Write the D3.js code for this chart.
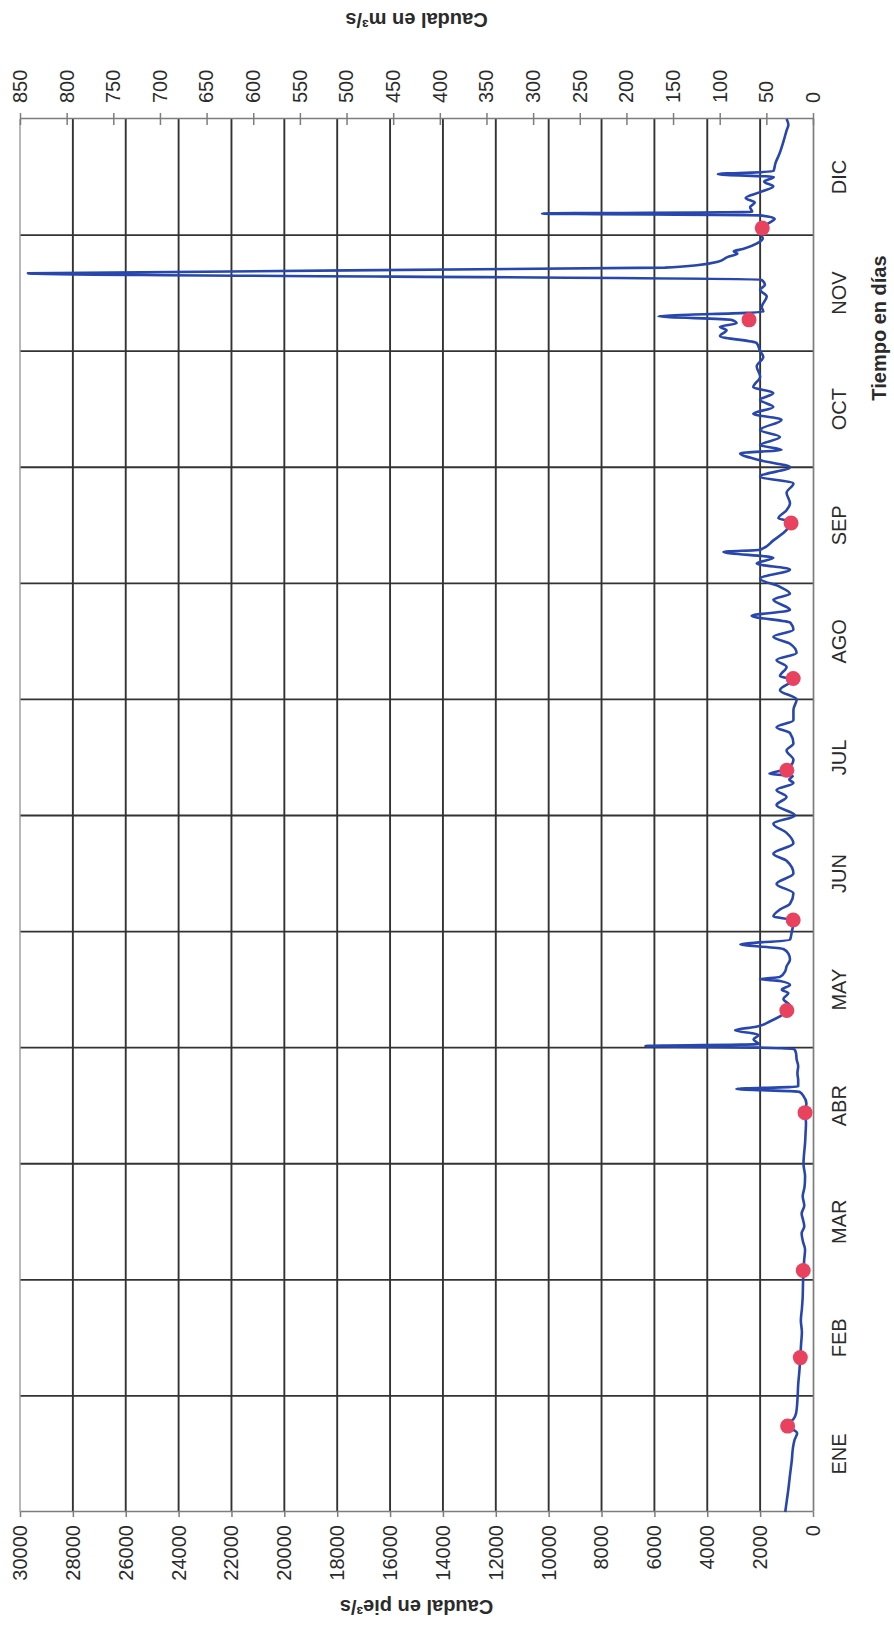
<!DOCTYPE html>
<html>
<head>
<meta charset="utf-8">
<script src="https://cdn.jsdelivr.net/npm/d3@7"></script>
<style>
  body { margin: 0; background: #ffffff; }
  svg text { font-family: "Liberation Sans", Arial, sans-serif; fill: #2b2b2b; }
</style>
</head>
<body>
<svg id="chart" width="894" height="1625"></svg>
<script>
// Months of the year (category labels of the time axis)
const months = ["ENE", "FEB", "MAR", "ABR", "MAY", "JUN", "JUL", "AGO", "SEP", "OCT", "NOV", "DIC"];

// Tick values of the two flow axes
const pieTicks = [0, 2000, 4000, 6000, 8000, 10000, 12000, 14000, 16000, 18000, 20000, 22000, 24000, 26000, 28000, 30000];
const m3Ticks = [0, 50, 100, 150, 200, 250, 300, 350, 400, 450, 500, 550, 600, 650, 700, 750, 800, 850];

// Daily flow hydrograph: time in months since 1 January, flow in ft³/s
const flowT = [
  0.00, 0.10, 0.20, 0.32, 0.45, 0.55, 0.62, 0.68, 0.71, 0.74, 0.77, 0.80, 0.85, 0.93,
  1.00, 1.10, 1.20, 1.33, 1.45, 1.55, 1.65, 1.75, 1.85, 1.95,
  2.08, 2.18, 2.26, 2.33, 2.40, 2.46, 2.52, 2.57, 2.64, 2.72, 2.80, 2.89,
  3.00, 3.08, 3.18, 3.27, 3.35, 3.44, 3.52, 3.58, 3.62, 3.645, 3.665, 3.72, 3.78, 3.84, 3.90, 3.95, 3.985,
  4.00, 4.015, 4.03, 4.07, 4.11, 4.15, 4.18, 4.23, 4.27, 4.32, 4.36, 4.42, 4.47, 4.50, 4.54, 4.575, 4.59, 4.61, 4.66, 4.70, 4.76, 4.81, 4.85, 4.89, 4.93,
  5.00, 5.05, 5.10, 5.13, 5.19, 5.24, 5.33, 5.41, 5.50, 5.61, 5.67, 5.76, 5.85, 5.93,
  6.00, 6.09, 6.16, 6.22, 6.28, 6.31, 6.34, 6.36, 6.40, 6.48, 6.56, 6.62, 6.71, 6.76, 6.82, 6.91,
  7.00, 7.08, 7.17, 7.20, 7.28, 7.34, 7.40, 7.48, 7.54, 7.60, 7.66, 7.72, 7.77, 7.86, 7.91, 7.97,
  8.04, 8.12, 8.17, 8.22, 8.27, 8.29, 8.37, 8.46, 8.53, 8.56, 8.63, 8.69, 8.78, 8.86, 8.92,
  9.00, 9.06, 9.12, 9.15, 9.19, 9.26, 9.32, 9.41, 9.46, 9.52, 9.58, 9.64, 9.69, 9.78, 9.87, 9.95,
  10.00, 10.07, 10.13, 10.18, 10.21, 10.24, 10.27, 10.30, 10.34, 10.38, 10.47, 10.53, 10.57, 10.615, 10.67, 10.72, 10.74, 10.77, 10.81, 10.84, 10.86, 10.88, 10.93, 10.97,
  11.00, 11.06, 11.10, 11.14, 11.17, 11.185, 11.20, 11.24, 11.28, 11.32, 11.37, 11.42, 11.46, 11.50, 11.525, 11.55, 11.62, 11.70, 11.82, 11.90, 11.95, 12.00
];
const flowQ = [
  1050, 990, 930, 870, 800, 760, 700, 600, 760, 980, 900, 740, 640, 600,
  580, 560, 520, 480, 450, 420, 460, 420, 390, 380,
  360, 330, 300, 380, 430, 330, 380, 430, 330, 390, 320, 300,
  360, 340, 300, 280, 265, 300, 250, 350, 520, 2900, 560, 560, 590, 560, 620, 640, 700,
  2100, 6350, 2050, 2250, 2050, 2950, 2150, 1600, 1250, 950, 870, 1120, 930, 1180, 870, 1250, 2000, 1250, 1050, 1000, 870, 930, 1120, 2750, 870,
  800, 760, 800, 1500, 1250, 870, 740, 1380, 740, 1000, 1500, 740, 1000, 1500,
  680, 1380, 1000, 1380, 740, 900, 760, 1650, 1000, 740, 1000, 740, 870, 1380, 740, 740,
  620, 1250, 760, 1250, 1000, 1380, 620, 870, 1500, 740, 850, 2320, 870, 1500, 870, 1250,
  2000, 870, 2130, 1500, 3390, 2000, 1500, 1000, 830, 1310, 1000, 870, 1000, 740, 2000,
  870, 2000, 2760, 1190, 2000, 1250, 2000, 1190, 2260, 1500, 2000, 1500, 2260, 2000, 2130, 1880,
  2000, 2130, 3520, 3270, 3520, 2890, 3100, 5850, 1880, 1940, 1750, 2000, 1820, 1950, 29700, 5600, 4400, 3600, 3240, 2860, 3000, 2650, 2100, 1900,
  1950, 1900, 1700, 1450, 2000, 10250, 2300, 2380, 2200, 2550, 2000, 1500, 1850, 1480, 3600, 1500, 1420, 1270, 1100, 1000, 930, 1000
];

// Spot flow measurements (ft³/s)
const obsT = [0.74, 1.33, 2.08, 3.44, 4.32, 5.10, 6.39, 7.18, 8.52, 10.27, 11.06];
const obsQ = [960, 480, 370, 300, 990, 750, 990, 750, 830, 2420, 1920];

// The chart is laid out in landscape (1625 x 894) and turned a quarter turn
// anticlockwise onto the portrait page.
const W = 1625, H = 894;
const margin = { left: 113, right: 119, top: 20, bottom: 81 };

const svg = d3.select("#chart");
const g = svg.append("g").attr("transform", `translate(0,${W}) rotate(-90)`);

const x = d3.scaleLinear().domain([0, 12]).range([margin.left, W - margin.right]);
const xBand = d3.scaleBand().domain(months).range([margin.left, W - margin.right]);
const y = d3.scaleLinear().domain([0, 30000]).range([H - margin.bottom, margin.top]);
const y2 = d3.scaleLinear().domain([0, 850]).range([H - margin.bottom, margin.top]);

const gridColor = "#333333";
const axisColor = "#7d7d7d";

// Horizontal gridlines (flow)
g.append("g").selectAll("line")
  .data(pieTicks.filter(d => d > 0 && d < 30000))
  .join("line")
  .attr("x1", margin.left).attr("x2", W - margin.right)
  .attr("y1", d => y(d)).attr("y2", d => y(d))
  .attr("stroke", gridColor).attr("stroke-width", 1.9);

// Vertical gridlines at month boundaries
g.append("g").selectAll("line")
  .data(months.slice(1))
  .join("line")
  .attr("x1", d => xBand(d)).attr("x2", d => xBand(d))
  .attr("y1", margin.top).attr("y2", H - margin.bottom)
  .attr("stroke", gridColor).attr("stroke-width", 1.9);

// Top border of the plot area
g.append("line")
  .attr("x1", margin.left).attr("x2", W - margin.right)
  .attr("y1", margin.top).attr("y2", margin.top)
  .attr("stroke", "#9a9a9a").attr("stroke-width", 1.4);

// Left axis: ft³/s
const axL = g.append("g")
  .attr("transform", `translate(${margin.left},0)`)
  .call(d3.axisLeft(y).tickValues(pieTicks).tickFormat(d3.format("d"))
    .tickSizeInner(5).tickSizeOuter(0).tickPadding(8));

// Right axis: m³/s with crossing tick marks
const axR = g.append("g")
  .attr("transform", `translate(${W - margin.right},0)`)
  .call(d3.axisRight(y2).tickValues(m3Ticks).tickFormat(d3.format("d"))
    .tickSizeInner(6).tickSizeOuter(0).tickPadding(10));
axR.selectAll(".tick line").attr("x1", -6);

// Bottom axis: months
const axB = g.append("g")
  .attr("transform", `translate(0,${H - margin.bottom})`)
  .call(d3.axisBottom(xBand).tickSize(0).tickPadding(19));

[axL, axR, axB].forEach(a => {
  a.attr("font-size", null).attr("font-family", null);
  a.select(".domain").attr("stroke", axisColor).attr("stroke-width", 1.7);
  a.selectAll(".tick line").attr("stroke", axisColor).attr("stroke-width", 1.5);
  a.selectAll(".tick text").style("font-size", "20px").attr("fill", "#2b2b2b");
});

// Flow hydrograph
const line = d3.line()
  .x(i => x(flowT[i]))
  .y(i => y(flowQ[i]))
  .curve(d3.curveMonotoneX);

g.append("path")
  .datum(d3.range(flowT.length))
  .attr("d", line)
  .attr("fill", "none")
  .attr("stroke", "#2746ae")
  .attr("stroke-width", 2.6)
  .attr("stroke-linejoin", "round");

// Measured flows
g.append("g").selectAll("circle")
  .data(d3.range(obsT.length))
  .join("circle")
  .attr("cx", i => x(obsT[i]))
  .attr("cy", i => y(obsQ[i]))
  .attr("r", 7.5)
  .attr("fill", "#e8425f");

// Axis titles
const midY = (margin.top + H - margin.bottom) / 2;
g.append("text")
  .attr("transform", `translate(25,${midY}) rotate(-90)`)
  .attr("text-anchor", "middle")
  .style("font-size", "20px").style("font-weight", "bold")
  .text("Caudal  en pie³/s");

g.append("text")
  .attr("transform", `translate(1612,${midY}) rotate(-90)`)
  .attr("text-anchor", "middle")
  .style("font-size", "20px").style("font-weight", "bold")
  .text("Caudal en m³/s");

g.append("text")
  .attr("x", 1297).attr("y", 886)
  .attr("text-anchor", "middle")
  .style("font-size", "20px").style("font-weight", "bold")
  .text("Tiempo en días");
</script>
</body>
</html>
